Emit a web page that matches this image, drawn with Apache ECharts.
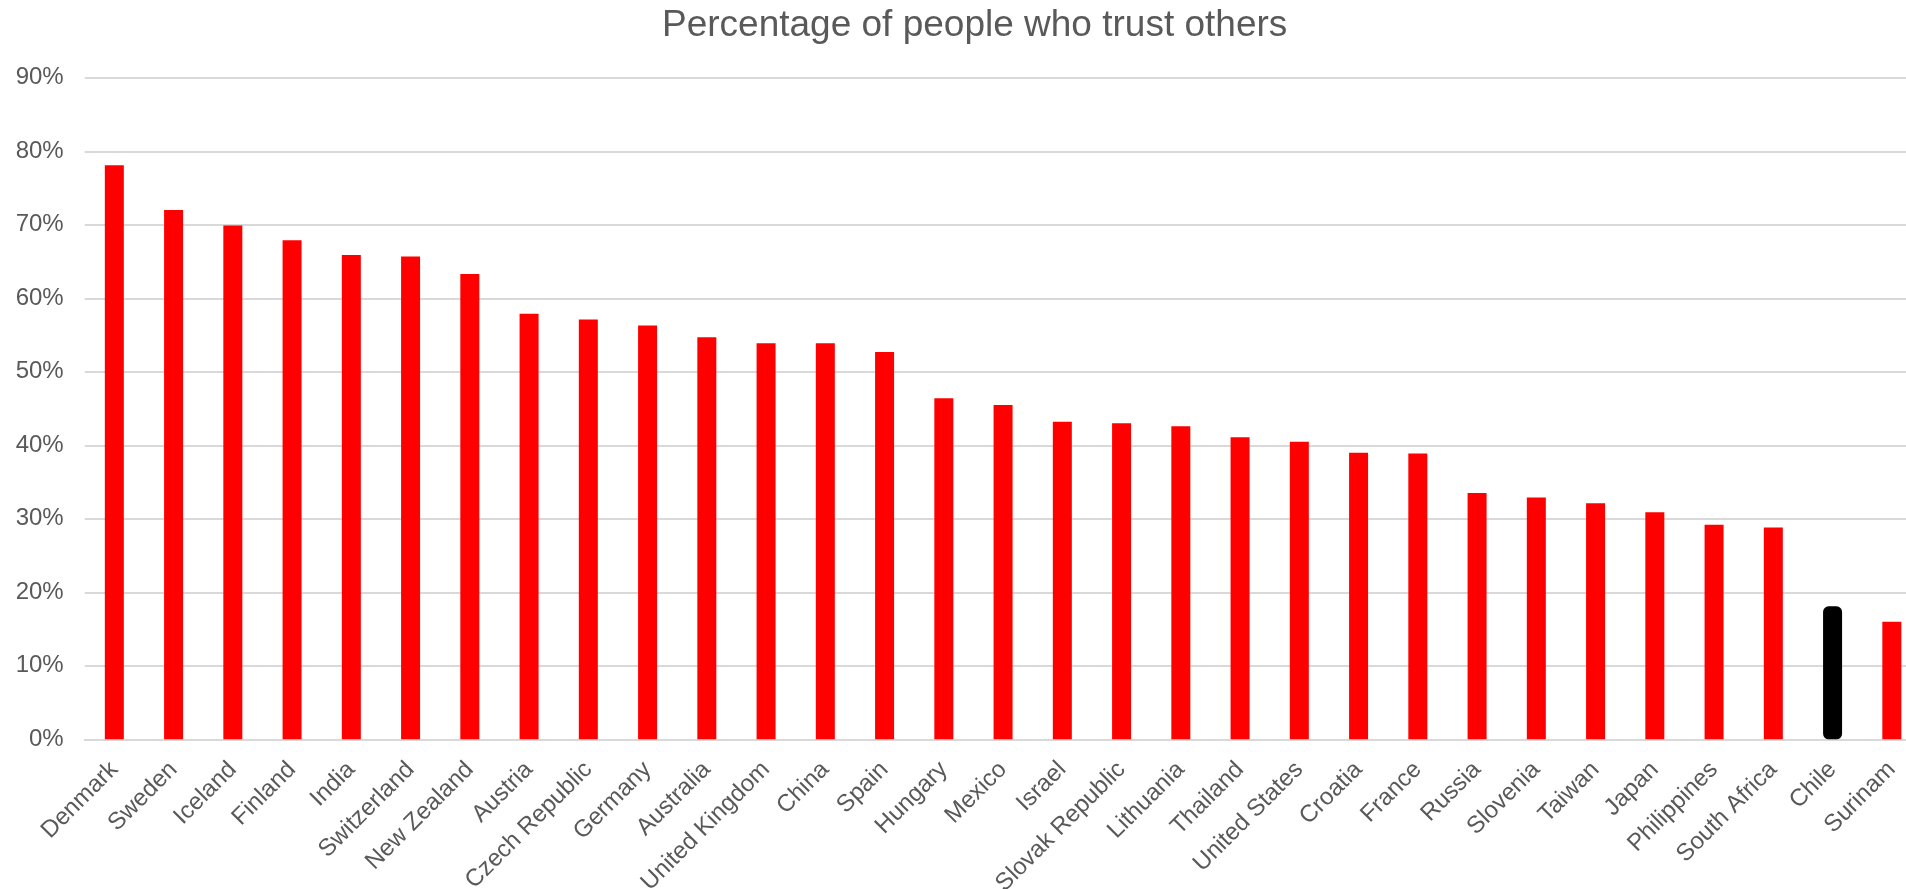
<!DOCTYPE html>
<html>
<head>
<meta charset="utf-8">
<title>Percentage of people who trust others</title>
<script src="https://cdn.jsdelivr.net/npm/echarts@6/dist/echarts.min.js"></script>
<style>
  html, body { margin: 0; padding: 0; background: #ffffff; }
  #chart { width: 1906px; height: 889px; }
</style>
</head>
<body>
<div id="chart"></div>
<script>
// Countries, ordered from highest to lowest share of people who trust others
const countries = [
  'Denmark', 'Sweden', 'Iceland', 'Finland', 'India', 'Switzerland', 'New Zealand',
  'Austria', 'Czech Republic', 'Germany', 'Australia', 'United Kingdom', 'China',
  'Spain', 'Hungary', 'Mexico', 'Israel', 'Slovak Republic', 'Lithuania', 'Thailand',
  'United States', 'Croatia', 'France', 'Russia', 'Slovenia', 'Taiwan', 'Japan',
  'Philippines', 'South Africa', 'Chile', 'Surinam'
];

// Share of people who trust others, in percent
const trustShare = [
  78.1, 72.0, 69.9, 67.9, 65.9, 65.7, 63.3,
  57.9, 57.1, 56.3, 54.7, 53.9, 53.9,
  52.7, 46.4, 45.5, 43.2, 43.0, 42.6, 41.1,
  40.5, 39.0, 38.9, 33.5, 32.9, 32.1, 30.9,
  29.2, 28.8, 18.1, 16.0
];

// Tick values of the percentage axis
const yTicks = [0, 10, 20, 30, 40, 50, 60, 70, 80, 90];

const highlighted = 'Chile';
const textColor = '#595959';
const gridColor = '#d9d9d9';
const fontFamily = '"Liberation Sans", Arial, sans-serif';

const barData = countries.map((name, i) => {
  if (name === highlighted) {
    return {
      value: trustShare[i],
      itemStyle: { color: '#000000', borderColor: '#000000', borderWidth: 5, borderRadius: 3 }
    };
  }
  return { value: trustShare[i], itemStyle: { color: '#ff0000' } };
});

const chart = echarts.init(document.getElementById('chart'), null, { renderer: 'canvas' });

chart.setOption({
  animation: false,
  backgroundColor: '#ffffff',
  title: {
    text: 'Percentage of people who trust others',
    left: 657,
    top: 2,
    textStyle: {
      fontFamily: fontFamily,
      fontSize: 37,
      fontWeight: 'normal',
      color: textColor
    }
  },
  grid: {
    left: 84.7,
    top: 77.8,
    width: 1836.75,
    height: 661.5,
    containLabel: false,
    outerBoundsMode: 'none'
  },
  xAxis: {
    type: 'category',
    data: countries,
    axisLine: { show: true, lineStyle: { color: gridColor, width: 2 } },
    axisTick: { show: false },
    axisLabel: {
      interval: 0,
      rotate: 45,
      margin: 26.5,
      verticalAlign: 'middle',
      padding: [4, 0, 0, 0],
      fontFamily: fontFamily,
      fontSize: 24,
      color: textColor
    }
  },
  yAxis: {
    type: 'value',
    min: yTicks[0],
    max: yTicks[yTicks.length - 1],
    interval: yTicks[1] - yTicks[0],
    axisLine: { show: false },
    axisTick: { show: false },
    splitLine: { show: true, lineStyle: { color: gridColor, width: 2 } },
    axisLabel: {
      margin: 21,
      fontFamily: fontFamily,
      fontSize: 24,
      color: textColor,
      formatter: '{value}%'
    }
  },
  series: [{
    type: 'bar',
    data: barData,
    barWidth: 19
  }]
});
</script>
</body>
</html>
